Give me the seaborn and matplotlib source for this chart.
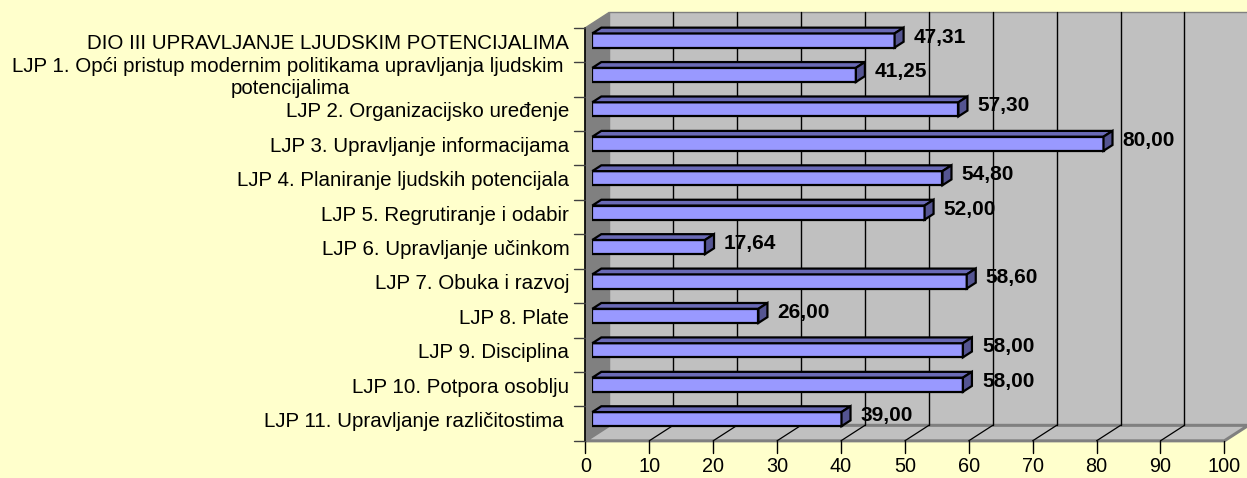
import matplotlib
matplotlib.use("Agg")
import matplotlib.pyplot as plt
from matplotlib.patches import Polygon
import seaborn as sns
import pandas as pd

# --- data -------------------------------------------------------------
categories = [
    "DIO III UPRAVLJANJE LJUDSKIM POTENCIJALIMA",
    "LJP 1. Opći pristup modernim politikama upravljanja ljudskim \npotencijalima",
    "LJP 2. Organizacijsko uređenje",
    "LJP 3. Upravljanje informacijama",
    "LJP 4. Planiranje ljudskih potencijala",
    "LJP 5. Regrutiranje i odabir",
    "LJP 6. Upravljanje učinkom",
    "LJP 7. Obuka i razvoj",
    "LJP 8. Plate",
    "LJP 9. Disciplina",
    "LJP 10. Potpora osoblju",
    "LJP 11. Upravljanje različitostima ",
]
values = [47.31, 41.25, 57.30, 80.00, 54.80, 52.00, 17.64, 58.60, 26.00, 58.00, 58.00, 39.00]
x_ticks = [0, 10, 20, 30, 40, 50, 60, 70, 80, 90, 100]

# --- style ------------------------------------------------------------
sns.set_style("white")
plt.rcParams["font.family"] = ["Liberation Sans", "DejaVu Sans"]

BG = "#FFFFCC"
WALL = "#C0C0C0"
SIDE_WALL = "#808080"
BAR_FRONT = "#9999FF"
BAR_TOP = "#6A6AB6"
BAR_SIDE = "#555592"

W, H = 1247, 478
fig = plt.figure(figsize=(W / 100, H / 100), dpi=100, facecolor=BG)

# axes frame = plane in which the bar fronts sit
ax_left_px, ax_top_px = 592.3, 23.3
SX = 6.39            # pixels per value unit
SY = 34.42           # pixels per category slot
n = len(categories)
ax = fig.add_axes([ax_left_px / W,
                   (H - (ax_top_px + SY * n)) / H,
                   SX * 100 / W,
                   SY * n / H])

# oblique depth projection (d = 0 front, d = 1 back wall)
DV = 24.0 / SX
DC = 15.5 / SY
DB = 0.29            # depth of the bar front faces
BAR_DEPTH = 0.375


def P(v, c, d):
    return (v + DV * (d - DB), c - DC * (d - DB))


c0, c1 = -0.5, n - 0.5
vmax = x_ticks[-1]

# bars (front faces)
df = pd.DataFrame({"cat": categories, "val": values})
sns.barplot(data=df, x="val", y="cat", orient="h", width=0.41,
            color=BAR_FRONT, saturation=1, edgecolor="black", linewidth=1.6,
            errorbar=None, ax=ax, zorder=3)
bars = list(ax.containers[0])

# back wall
ax.add_patch(Polygon([P(0, c0, 1), P(vmax, c0, 1), P(vmax, c1, 1), P(0, c1, 1)],
                     closed=True, facecolor=WALL, edgecolor="#808080", lw=1.0,
                     zorder=0.5, clip_on=False))
# left wall
ax.add_patch(Polygon([P(0, c0, 0), P(0, c0, 1), P(0, c1, 1), P(0, c1, 0)],
                     closed=True, facecolor=SIDE_WALL, edgecolor="#808080", lw=1.0,
                     zorder=0.6, clip_on=False))
# floor
ax.add_patch(Polygon([P(0, c1, 0), P(vmax, c1, 0), P(vmax, c1, 1), P(0, c1, 1)],
                     closed=True, facecolor=WALL, edgecolor="#808080", lw=2.2,
                     joinstyle="miter", zorder=0.7, clip_on=False))

# gridlines on back wall and floor
for v in x_ticks[1:-1]:
    xs, ys = zip(P(v, c0, 1), P(v, c1, 1))
    ax.plot(xs, ys, color="black", lw=1.0, zorder=0.8, clip_on=False)
    xs, ys = zip(P(v, c1, 0), P(v, c1, 1))
    ax.plot(xs, ys, color="black", lw=0.9, zorder=0.8, clip_on=False)

# front value axis (ticks + labels)
for v in x_ticks:
    x, y = P(v, c1, 0)
    ax.plot([x, x], [y, y + 12 / SY], color="black", lw=1.0, zorder=2, clip_on=False)
    ax.text(x, y + 26 / SY, f"{v}", ha="center", va="center",
            fontsize=14.3, color="black", zorder=2)

# front category axis line and ticks
xa, ya0 = P(0, c0, 0)
_, ya1 = P(0, c1, 0)
ax.plot([xa, xa], [ya0, ya1], color="black", lw=1.2, zorder=2, clip_on=False)
for k in range(n + 1):
    x, y = P(0, c0 + k, 0)
    ax.plot([x - 11 / SX, x], [y, y], color="#404040", lw=1.0, zorder=2, clip_on=False)

# category labels
for i, lab in enumerate(categories):
    x, y = P(0, i, 0)
    ax.text(x - 16 / SX, y - 2 / SY, lab, ha="right", va="center",
            multialignment="center", linespacing=1.25, fontsize=14.8,
            color="black", zorder=2)

# 3D top and end faces, plus value labels
sx, sy = DV * BAR_DEPTH, -DC * BAR_DEPTH
for p, val in zip(bars, values):
    y_top = p.get_y()
    y_bot = p.get_y() + p.get_height()
    x0 = p.get_x()
    x1 = p.get_x() + p.get_width()
    ax.add_patch(Polygon([(x0, y_top), (x1, y_top), (x1 + sx, y_top + sy), (x0 + sx, y_top + sy)],
                         closed=True, facecolor=BAR_TOP, edgecolor="black", lw=1.6,
                         zorder=3, clip_on=False))
    ax.add_patch(Polygon([(x1, y_top), (x1, y_bot), (x1 + sx, y_bot + sy), (x1 + sx, y_top + sy)],
                         closed=True, facecolor=BAR_SIDE, edgecolor="black", lw=1.6,
                         zorder=3, clip_on=False))
    yc = (y_top + y_bot) / 2
    ax.text(x1 + 19 / SX, yc - 3.5 / SY, f"{val:.2f}".replace(".", ","),
            ha="left", va="center", fontsize=15, fontweight="bold",
            color="black", zorder=4)

ax.set_xlim(0, vmax)
ax.set_ylim(c1, c0)
ax.set_axis_off()

fig.savefig("out.png", dpi=100, facecolor=BG)
